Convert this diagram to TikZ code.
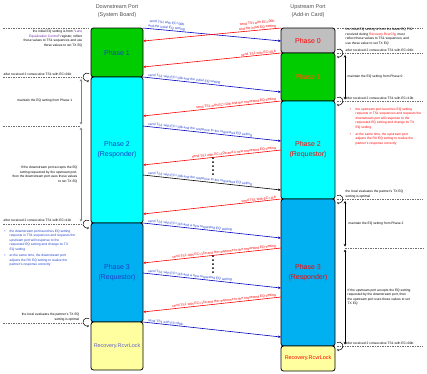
\documentclass[tikz,border=0pt]{standalone}
\usepackage{fontspec}
\setmainfont{Liberation Sans}
\usetikzlibrary{arrows.meta}
\definecolor{phgreen}{HTML}{00CC00}
\definecolor{phgray}{HTML}{BFBFBF}
\definecolor{phcyan}{HTML}{00FFFF}
\definecolor{phblue}{HTML}{00B0F0}
\definecolor{phyellow}{HTML}{FFFFA0}
\definecolor{lblblue}{HTML}{1F3FC8}
\definecolor{lnblue}{HTML}{0000C0}
\definecolor{lnred}{HTML}{FF0000}
\definecolor{titlegray}{HTML}{505050}
\definecolor{recblue}{HTML}{6060C8}
\definecolor{dashgray}{HTML}{707070}
\definecolor{lanepurple}{HTML}{7030A0}
\definecolor{phorange}{HTML}{FF5A00}
\newcommand{\annfs}{\fontsize{3.3}{4.5}\selectfont}
\newcommand{\lblfs}{\fontsize{3.4}{4.8}\selectfont}
\newcommand{\phfs}{\fontsize{7}{10}\selectfont}
\newcommand{\ttlfs}{\fontsize{5.5}{7.5}\selectfont}
\begin{document}
\begin{tikzpicture}[x=1pt,y=-1pt,
  phasebox/.style={draw=black, line width=0.8pt, rounded corners=2.5pt, inner sep=0pt, align=center, font=\phfs},
  lbox/.style={phasebox, minimum width=52pt},
  rbox/.style={phasebox, minimum width=54pt},
  msgb/.style={draw=lnblue, line width=0.6pt, -{Stealth[length=3pt,width=2.4pt]}},
  msgk/.style={draw=black, line width=0.6pt, -{Stealth[length=3pt,width=2.4pt]}},
  msgr/.style={draw=lnred, line width=0.6pt, {Stealth[length=3pt,width=2.4pt]}-},
  lblb/.style={pos=0.03, sloped, anchor=south west, inner sep=0.5pt, font=\lblfs, text=lblblue, align=center},
  lblr/.style={pos=0.97, sloped, anchor=south east, inner sep=0.5pt, font=\lblfs, text=lnred, align=center},
  dashln/.style={draw=dashgray, line width=0.35pt, dash pattern=on 1.5pt off 1pt},
  ann/.style={font=\annfs, inner sep=0.5pt},
  loopst/.style={draw=black, line width=0.5pt, -{Stealth[length=2.2pt,width=2pt]}},
  vleft/.style={draw=gray, line width=1pt, {Stealth[length=2.5pt,width=2.5pt]}-{Stealth[length=2.5pt,width=2.5pt]}},
  vright/.style={draw=black, line width=0.5pt, {Stealth[length=2.5pt,width=2.5pt]}-{Stealth[length=2.5pt,width=2.5pt]}},
  dotst/.style={fill=black, draw=none}
]
\useasboundingbox (0,0) rectangle (427,373);

% titles
\node[font=\ttlfs, text=titlegray, align=center] (tl) at (117,11) {Downstream Port\\(System Board)};
\node[font=\ttlfs, text=titlegray, align=center] (tr) at (308,11) {Upstream Port\\(Add-in Card)};

% left column
\node[lbox, fill=phgreen, minimum height=49pt, text=lblblue] (L1) at (117,52.5) {Phase 1};
\node[lbox, fill=phcyan, minimum height=146pt, text=lblblue] (L2) at (117,150) {Phase 2\\(Responder)};
\node[lbox, fill=phblue, minimum height=99pt, text=lblblue] (L3) at (117,272.5) {Phase 3\\(Requestor)};
\node[lbox, fill=phyellow, minimum height=48pt, text=recblue, font=\fontsize{5.4}{7}\selectfont] (L4) at (117,346) {Recovery.RcvrLock};

% right column
\node[rbox, fill=phgray, minimum height=25pt, text=lnred] (R0) at (308,40.5) {Phase 0};
\node[rbox, fill=phgreen, minimum height=48pt, text=phorange] (R1) at (308,77) {Phase 1};
\node[rbox, fill=phcyan, minimum height=98pt, text=lnred] (R2) at (308,150) {Phase 2\\(Requestor)};
\node[rbox, fill=phblue, minimum height=147pt, text=lnred] (R3) at (308,272.5) {Phase 3\\(Responder)};
\node[rbox, fill=phyellow, minimum height=25pt, text=lnred, font=\fontsize{5.4}{7}\selectfont] (R4) at (308,358.5) {Recovery.RcvrLock};

% message end points
\coordinate (a1) at (143,28);   \coordinate (b1) at (281,41);
\coordinate (a2) at (143,41);   \coordinate (b2) at (281,28);
\coordinate (a3) at (143,67);   \coordinate (b3) at (281,53);
\coordinate (a4) at (143,77);   \coordinate (b4) at (281,92);
\coordinate (a5) at (143,116);  \coordinate (b5) at (281,101);
\coordinate (a6) at (143,126);  \coordinate (b6) at (281,141);
\coordinate (a7) at (143,165);  \coordinate (b7) at (281,150);
\coordinate (a8) at (143,175);  \coordinate (b8) at (281,190);
\coordinate (a9) at (143,214);  \coordinate (b9) at (281,199);
\coordinate (a10) at (143,223); \coordinate (b10) at (281,238);
\coordinate (a11) at (143,263); \coordinate (b11) at (281,248);
\coordinate (a12) at (143,273); \coordinate (b12) at (281,288);
\coordinate (a13) at (143,312); \coordinate (b13) at (281,297);
\coordinate (a14) at (143,322); \coordinate (b14) at (281,337);

\draw[msgb] (a1) -- (b1) node[lblb] {send TS1 with EC=00b\\and the initial EQ setting};
\draw[msgr] (a2) -- (b2) node[lblr] {send TS1 with EC=00b\\and the initial EQ setting};
\draw[msgr] (a3) -- (b3) node[lblr] {send TS1 with EC=01b};
\draw[msgb] (a4) -- (b4) node[lblb] {send TS1 with EC=10b and the initial EQ setting};
\draw[msgr] (a5) -- (b5) node[lblr] {send TS1 with EC=10b and the requested EQ setting};
\draw[msgb] (a6) -- (b6) node[lblb] {send TS1 with EC=10b and the response to the requested EQ setting};
\draw[msgr] (a7) -- (b7) node[lblr] {send TS1 with EC=10b and a new requested EQ setting};
\draw[msgk] (a8) -- (b8) node[lblb] {send TS1 with EC=10b and the response to the requested EQ setting};
\draw[msgr] (a9) -- (b9) node[lblr] {send TS1 with EC=11b};
\draw[msgb] (a10) -- (b10) node[lblb] {send TS1 with EC=11b and a new requested EQ setting};
\draw[msgr] (a11) -- (b11) node[lblr] {send TS1 with EC=11b and the response to the requested EQ setting};
\draw[msgb] (a12) -- (b12) node[lblb] {send TS1 with EC=11b and a new requested EQ setting};
\draw[msgr] (a13) -- (b13) node[lblr] {send TS1 with EC=11b and the response to the requested EQ setting};
\draw[msgb] (a14) -- (b14) node[lblb] {send TS1 with EC=00b};

% dots
\foreach \yy in {158,162,166,170,174,256,260,264,268,272}
  \fill[dotst] (213,\yy) circle[radius=1pt];

% left annotations
\draw[dashln] (3,28) -- (89,28);
\node[ann, align=right, anchor=north east] (n1) at (83,29.5) {the initial EQ setting is from ``\textcolor{lanepurple}{Lane}\\\textcolor{lanepurple}{Equalization Control}'' register, reflect\\these values to TS1 sequences and use\\these values to set TX EQ};
\node[ann, anchor=south west] (n2) at (3,76.6) {after received 2 consecutive TS1 with EC=01b};
\draw[dashln] (3,77.5) -- (83,77.5);
\draw[vleft] (81,79) -- (81,124.5);
\node[ann, anchor=east] (n3) at (73,101) {maintain the EQ setting from Phase 1};
\draw[dashln] (3,126) -- (80,126);
\draw[vleft] (81,127.5) -- (81,221.5);
\node[ann, align=right, anchor=north east] (n4) at (78,165.5) {If the downstream port accepts the EQ\\setting requested by the upstream port,\\then the downstream port uses these values\\to set TX EQ};
\node[ann, anchor=south west] (n5) at (3,222.6) {after received 2 consecutive TS1 with EC=11b};
\draw[dashln] (3,224) -- (83,224);
\node[ann, text=lblblue] (bu1) at (5,231.5) {\textbullet};
\node[ann, text=lblblue, align=left, anchor=north west] (n6) at (9,229.3) {the downstream port launches EQ setting\\requests in TS1 sequences and requests the\\upstream port will response to the\\requested EQ setting and change its TX\\EQ setting};
\node[ann, text=lblblue] (bu2) at (5,255.7) {\textbullet};
\node[ann, text=lblblue, align=left, anchor=north west] (n7) at (9,253.5) {at the same time, the downstream port\\adjusts the RX EQ setting to realize the\\partner's response correctly};
\node[ann, align=right, anchor=south east] (n8) at (80,321.5) {the local evaluates the partner's TX EQ\\setting is optimal};
\draw[dashln] (3,323) -- (83,323);

% right annotations
\draw[dashln] (337,28) -- (423,28);
\node[ann, align=left, anchor=north west] (m1) at (345,27.5) {the initial EQ setting is from the latest EQ TS2\\received during \textcolor{lnred}{Recovery.RcvrCfg}, must\\reflect these values to TS1 sequences, and\\use these value to set TX EQ};
\node[ann, anchor=south west] (m2) at (345,52.6) {after received 2 consecutive TS1 with EC=01b};
\draw[dashln] (337,53.5) -- (423,53.5);
\draw[vright] (345,55) -- (345,99.5);
\node[ann, anchor=west] (m3) at (347,77) {maintain the EQ setting from Phase 0};
\node[ann, anchor=south west] (m4) at (345,100.6) {after received 2 consecutive TS1 with EC=10b};
\draw[dashln] (337,101.5) -- (423,101.5);
\node[ann, text=lnred] (bu3) at (350.5,109.5) {\textbullet};
\node[ann, text=lnred, align=left, anchor=north west] (m5) at (355,107.3) {the upstream port launches EQ setting\\requests in TS1 sequences and requests the\\downstream port will response to the\\requested EQ setting and change its TX\\EQ setting.};
\node[ann, text=lnred] (bu4) at (350.5,134.5) {\textbullet};
\node[ann, text=lnred, align=left, anchor=north west] (m6) at (355,132.3) {at the same time, the upstream port\\adjusts the RX EQ setting to realize the\\partner's response correctly};
\node[ann, align=left, anchor=south west] (m7) at (345,198.6) {the local evaluates the partner's TX EQ\\setting is optimal};
\draw[dashln] (337,199.5) -- (423,199.5);
\draw[vright] (345,201) -- (345,246.5);
\node[ann, anchor=west] (m8) at (348,224) {maintain the EQ setting from Phase 2};
\draw[dashln] (345,248) -- (423,248);
\draw[vright] (345,249.5) -- (345,344.5);
\node[ann, align=left, anchor=north west] (m9) at (347,288) {If the upstream port accepts the EQ setting\\requested by the downstream port, then\\the upstream port uses these values to set\\TX EQ};
\node[ann, anchor=south west] (m10) at (345,345.6) {after received 2 consecutive TS1 with EC=00b};
\draw[dashln] (337,346.5) -- (423,346.5);

% loops at the phase boundaries
\foreach \yy in {77,224,322}
  \draw[loopst] (89,\yy-3.46) arc[start angle=60, end angle=300, radius=4pt];
\foreach \yy in {53,101,199,346}
  \draw[loopst] (337,\yy-3.46) arc[start angle=120, end angle=-120, radius=4pt];
\end{tikzpicture}
\end{document}
